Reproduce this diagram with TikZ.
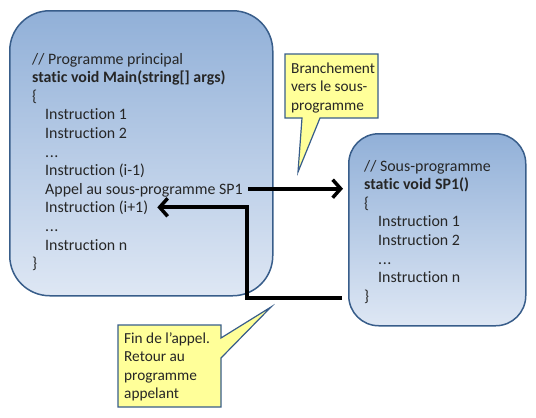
\documentclass[tikz,border=0pt]{standalone}
\usepackage{fontspec}
\setmainfont[Ligatures={NoCommon}]{Carlito}
\usetikzlibrary{arrows.meta,calc}
\definecolor{boxtop}{RGB}{145,176,216}
\definecolor{boxbot}{RGB}{222,231,244}
\definecolor{boxline}{RGB}{56,93,138}
\definecolor{callfill}{RGB}{255,255,153}
\definecolor{txt}{RGB}{38,38,38}
\begin{document}
\begin{tikzpicture}[x=1pt,y=-1pt,
  prog/.style={draw=boxline, line width=1.5pt, top color=boxtop, bottom color=boxbot, rectangle, inner sep=0pt},
  ln/.style={anchor=base west, inner sep=0pt, font=\fontsize{15.9}{18}\selectfont, text=txt},
  lnb/.style={ln, font=\fontsize{15.9}{18}\selectfont\bfseries},
  cln/.style={ln, font=\fontsize{15.3}{18}\selectfont},
  callout/.style={draw=boxline, line width=1.2pt, fill=callfill, line join=miter},
  flow/.style={line width=4pt, -{Straight Barb[length=8pt,width=18pt,line width=3.5pt]}}
]
\useasboundingbox (0,0) rectangle (536,418);

% main programme box
\node[prog, rounded corners=40pt, minimum width=263pt, minimum height=285pt, anchor=north west] (main) at (9,10) {};
\node[ln]  (m1)  at (32,64)    {// Programme principal};
\node[lnb] (m2)  at (32,82.6)  {static void Main(string[] args)};
\node[ln]  (m3)  at (32,101.2) {\{};
\node[ln]  (m4)  at (45,119.8) {Instruction 1};
\node[ln]  (m5)  at (45,138.4) {Instruction 2};
\node[ln]  (m6)  at (45,157)   {.\kern0.6pt.\kern0.6pt.};
\node[ln]  (m7)  at (45,175.6) {Instruction (i-1)};
\node[ln]  (appel) at (45,194.2) {Appel au sous-programme SP1};
\node[ln]  (iplus) at (45,212.8) {Instruction (i+1)};
\node[ln]  (m10) at (45,231.4) {.\kern0.6pt.\kern0.6pt.};
\node[ln]  (m11) at (45,250)   {Instruction n};
\node[ln]  (m12) at (32,268.6) {\}};

% sub-programme box
\node[prog, rounded corners=30pt, minimum width=177pt, minimum height=192pt, anchor=north west] (sub) at (348,133) {};
\node[ln]  (s1) at (364,171)   {// Sous-programme};
\node[lnb] (s2) at (364,189.6) {static void SP1()};
\node[ln]  (s3) at (364,208.2) {\{};
\node[ln]  (s4) at (378,226.8) {Instruction 1};
\node[ln]  (s5) at (378,245.4) {Instruction 2};
\node[ln]  (s6) at (378,264)   {.\kern0.6pt.\kern0.6pt.};
\node[ln]  (s7) at (378,282.6) {Instruction n};
\node[ln]  (sbrace) at (364,301.2) {\}};

% callout 1
\draw[callout] (285,54) -- (378,54) -- (378,118) -- (320,118) -- (298,172) -- (302,118) -- (285,118) -- cycle;
\node[cln] (c1a) at (291,73)   {Branchement};
\node[cln] (c1b) at (291,91.5) {vers le sous-};
\node[cln] (c1c) at (291,110)  {programme};

% callout 2
\draw[callout] (118,325) -- (221,325) -- (221,338) -- (271,307) -- (221,358) -- (221,407) -- (118,407) -- cycle;
\node[cln] (c2a) at (124,343)   {Fin de l’appel.};
\node[cln] (c2b) at (124,361.5) {Retour au};
\node[cln] (c2c) at (124,380)   {programme};
\node[cln] (c2d) at (124,398.5) {appelant};

% call arrow
\coordinate (a1s) at ($(appel.base east)+(5pt,5.5pt)$);
\draw[flow] (a1s) -- ($(a1s -| sub.west)+(-5pt,0pt)$);

% return arrow
\coordinate (r0) at ($(sbrace.base -| sub.west)+(-6pt,3pt)$);
\coordinate (rx) at (247,0);
\draw[flow] (r0) -- (r0 -| rx) |- ($(iplus.base east)+(9pt,5.5pt)$);
\end{tikzpicture}
\end{document}
